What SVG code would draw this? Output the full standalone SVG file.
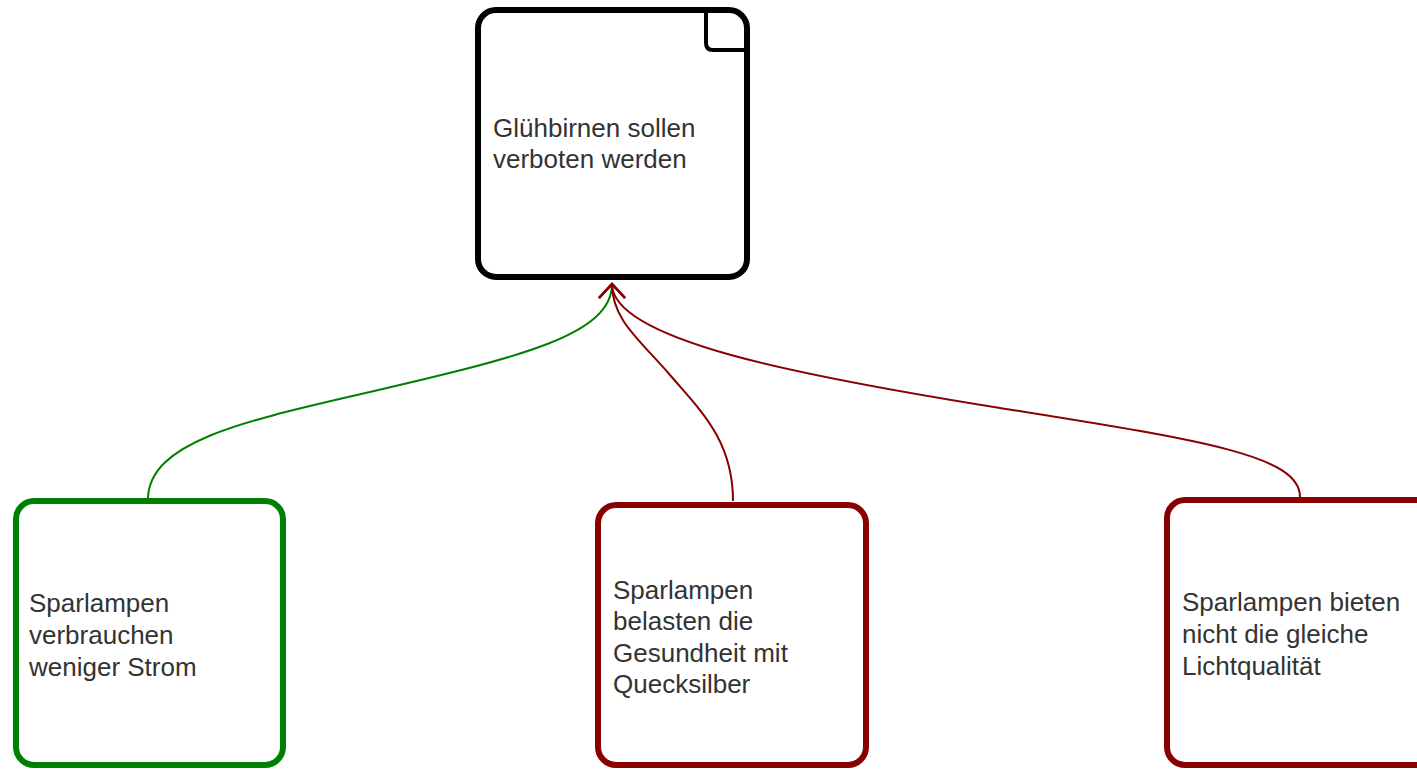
<svg xmlns="http://www.w3.org/2000/svg" width="1417" height="770" viewBox="0 0 1417 770">
  <style>
    .box { fill: #ffffff; stroke-width: 6; }
    .claim { stroke: #000000; }
    .pro { stroke: #008000; }
    .con { stroke: #880000; }
    .lbl { font-family: "Liberation Sans", Arial, sans-serif; font-size: 26px; fill: #333333; }
    .edge { fill: none; stroke-width: 2; }
  </style>
  <defs>
    <marker id="arrG" markerUnits="userSpaceOnUse" viewBox="-16 -16 20 32" markerWidth="20" markerHeight="32" refX="0" refY="0" orient="auto">
      <path d="M-14,-13 L0,0 L-14,13" fill="none" stroke="#008000" stroke-width="2.5"/>
    </marker>
    <marker id="arrR" markerUnits="userSpaceOnUse" viewBox="-16 -16 20 32" markerWidth="20" markerHeight="32" refX="0" refY="0" orient="auto">
      <path d="M-14,-13 L0,0 L-14,13" fill="none" stroke="#880000" stroke-width="2.5"/>
    </marker>
  </defs>

  <g id="connectors">
    <path class="edge" stroke="#008000" d="M148,498 C150,440 250,420 370,392 C520,357 612,335 612,284" marker-end="url(#arrG)"/>
    <path class="edge" stroke="#880000" d="M733,501 C733,440 700,410 670,375 C640,340 612,320 612,284" marker-end="url(#arrR)"/>
    <path class="edge" stroke="#880000" d="M1300,497 C1300,455 1200,440 1000,408 C800,376 612,340 612,284" marker-end="url(#arrR)"/>
  </g>

  <g id="claim">
    <rect class="box claim" x="478" y="10" width="269" height="267" rx="18" ry="18"/>
    <path d="M706,10 L706,43 Q706,50 713,50 L746,50" fill="none" stroke="#000000" stroke-width="4"/>
    <text class="lbl" x="493" y="137">Glühbirnen sollen</text>
    <text class="lbl" x="493" y="168">verboten werden</text>
  </g>

  <g id="pro1">
    <rect class="box pro" x="16" y="501" width="267" height="264" rx="18" ry="18"/>
    <text class="lbl" x="29" y="612">Sparlampen</text>
    <text class="lbl" x="29" y="644">verbrauchen</text>
    <text class="lbl" x="29" y="676">weniger Strom</text>
  </g>

  <g id="con1">
    <rect class="box con" x="598" y="505" width="268" height="260" rx="18" ry="18"/>
    <text class="lbl" x="613" y="599">Sparlampen</text>
    <text class="lbl" x="613" y="630">belasten die</text>
    <text class="lbl" x="613" y="662">Gesundheit mit</text>
    <text class="lbl" x="613" y="693">Quecksilber</text>
  </g>

  <g id="con2">
    <rect class="box con" x="1167" y="500" width="268" height="265" rx="18" ry="18"/>
    <text class="lbl" x="1182" y="611">Sparlampen bieten</text>
    <text class="lbl" x="1182" y="643">nicht die gleiche</text>
    <text class="lbl" x="1182" y="675">Lichtqualität</text>
  </g>
</svg>
